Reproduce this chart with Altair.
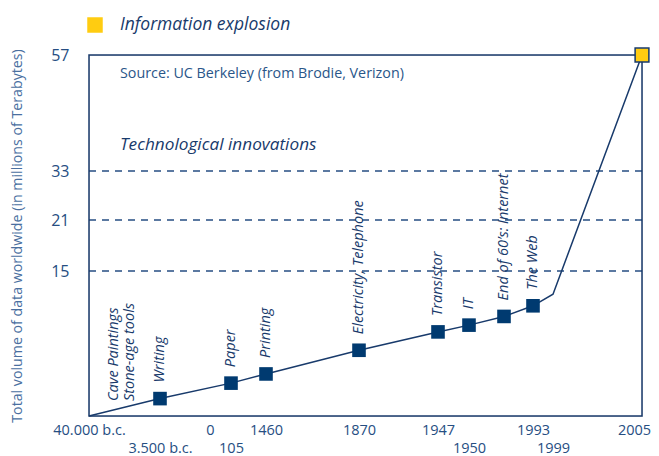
import altair as alt
import pandas as pd

# ---- data ----
years = [-40000, -3500, 105, 1460, 1870, 1947, 1950, 1969, 1993, 1999, 2005]
volume = [0.0, 1.8, 3.4, 4.35, 6.8, 8.7, 9.4, 10.3, 11.4, 12.6, 57.0]

event_years = [-3500, 105, 1460, 1870, 1947, 1950, 1969, 1993]
event_values = [1.8, 3.4, 4.35, 6.8, 8.7, 9.4, 10.3, 11.4]
event_names = ["Writing", "Paper", "Printing", "Electricity, Telephone",
               "Transistor", "IT", "End of 60\u2019s: Internet", "The Web"]

start_label = "Cave Paintings\nStone-age tools"

tick_years = [-40000, -3500, 0, 105, 1460, 1870, 1947, 1950, 1993, 1999, 2005]
tick_text = ["40.000 b.c.", "3.500 b.c.", "0", "105", "1460", "1870",
             "1947", "1950", "1993", "1999", "2005"]
tick_lower = [-3500, 105, 1950, 1999]

y_ticks = [15, 21, 33, 57]
grid_values = [15, 21, 33]

# scale breakpoints (non-linear axis as in the original)
x_knots = [-40000, -3500, 0, 105, 1460, 1870, 1947, 1950, 1969, 1993, 1999, 2005]
x_pos = [0, 71, 121, 142, 177, 270, 349, 380, 415, 444, 464, 553]
y_knots = [0, 15, 21, 33, 57]
y_pos = [361, 216, 165, 116, 0]

NAVY = "#183a6b"
MARK = "#003a70"
LABEL = "#264e82"
FONT = "Open Sans"
W, H = 553, 361

line_df = pd.DataFrame({"year": years, "vol": volume})
ev_df = pd.DataFrame({"year": event_years, "vol": event_values, "name": event_names})
end_df = pd.DataFrame({"year": [years[-1]], "vol": [volume[-1]]})
start_df = pd.DataFrame({"year": [years[0]], "vol": [volume[0]], "name": [start_label]})
grid_df = pd.DataFrame({"vol": grid_values})

# label expression
expr = "''"
for yv, t in zip(reversed(tick_years), reversed(tick_text)):
    lab = f"['', '{t}']" if yv in tick_lower else f"'{t}'"
    expr = f"datum.value == {yv} ? {lab} : ({expr})"

xscale = alt.Scale(domain=x_knots, range=x_pos, nice=False, zero=False)
yscale = alt.Scale(domain=y_knots, range=y_pos, nice=False, zero=False)

X = alt.X("year:Q", scale=xscale,
          axis=alt.Axis(values=tick_years, labelExpr=expr, title=None, grid=False,
                        ticks=False, domain=False, labelOverlap=False, labelFlush=False,
                        labelBound=False, labelFont=FONT, labelFontSize=14.5,
                        labelColor=LABEL, labelPadding=7, labelLineHeight=18,
                        labelBaseline="top", labelAlign="center",
                        labelOffset={"condition": {"test": f"datum.value == {tick_years[-1]}", "value": -8},
                                     "value": 0}))
Y = alt.Y("vol:Q", scale=yscale,
          axis=alt.Axis(values=y_ticks, title="Total volume of data worldwide (in millions of Terabytes)",
                        grid=False, ticks=False, domain=False, labelFont=FONT,
                        labelFontSize=16, labelColor=LABEL, labelPadding=20,
                        titleFont=FONT, titleFontSize=14.2, titleFontWeight="normal",
                        titleColor="#4a6f9f", titleX=-72, titleY=H / 2,
                        titleAngle=270, titleBaseline="middle", titleAlign="center"))

grid = alt.Chart(grid_df).mark_rule(color=LABEL, strokeWidth=1.3, strokeDash=[7, 6]).encode(
    y=Y, x=alt.value(0), x2=alt.value(W))

frame = alt.Chart(pd.DataFrame({"k": [0]})).mark_rect(fill=None, stroke=NAVY, strokeWidth=1.5).encode(
    x=alt.value(0), x2=alt.value(W), y=alt.value(0), y2=alt.value(H))

line = alt.Chart(line_df).mark_line(color=NAVY, strokeWidth=1.5).encode(x=X, y="vol:Q")

pts = alt.Chart(ev_df).mark_square(size=185, color=MARK, opacity=1).encode(x="year:Q", y="vol:Q")

end_pt = alt.Chart(end_df).mark_square(size=190, fill="#FFCC11", stroke=NAVY,
                                        strokeWidth=1.5, opacity=1).encode(x="year:Q", y="vol:Q")

labels = alt.Chart(ev_df).mark_text(angle=270, align="left", baseline="middle", dx=16,
                                    font=FONT, fontSize=14.5, fontStyle="italic",
                                    color=NAVY).encode(x="year:Q", y="vol:Q", text="name:N")

start_txt = alt.Chart(start_df).mark_text(angle=270, align="left", baseline="middle", dx=15, dy=25,
                                          lineBreak="\n", lineHeight=16, font=FONT, fontSize=14.5,
                                          fontStyle="italic", color=NAVY).encode(
    x="year:Q", y="vol:Q", text="name:N")

legend_sq = alt.Chart(pd.DataFrame({"k": [0]})).mark_square(size=240, color="#FFCC11", opacity=1).encode(
    x=alt.value(6), y=alt.value(-30))
title1 = alt.Chart(pd.DataFrame({"t": ["Information explosion"]})).mark_text(
    align="left", baseline="middle", font=FONT, fontSize=17.5, fontStyle="italic", color=NAVY).encode(
    x=alt.value(31), y=alt.value(-30), text="t:N")
source = alt.Chart(pd.DataFrame({"t": ["Source: UC Berkeley (from Brodie, Verizon)"]})).mark_text(
    align="left", baseline="middle", font=FONT, fontSize=14.3, color="#2a5689").encode(
    x=alt.value(31), y=alt.value(19), text="t:N")
title2 = alt.Chart(pd.DataFrame({"t": ["Technological innovations"]})).mark_text(
    align="left", baseline="middle", font=FONT, fontSize=17.2, fontStyle="italic", color=NAVY).encode(
    x=alt.value(31), y=alt.value(90), text="t:N")

chart = alt.layer(grid, frame, line, pts, end_pt, labels, start_txt, legend_sq, title1, source, title2).properties(
    width=W, height=H,
    autosize=alt.AutoSizeParams(type="none"),
    padding={"left": 81, "top": 47, "right": 9, "bottom": 40},
).configure_view(stroke=None).configure(background="white")

chart.save("out.html", embed_options={"renderer": "svg", "actions": False})
